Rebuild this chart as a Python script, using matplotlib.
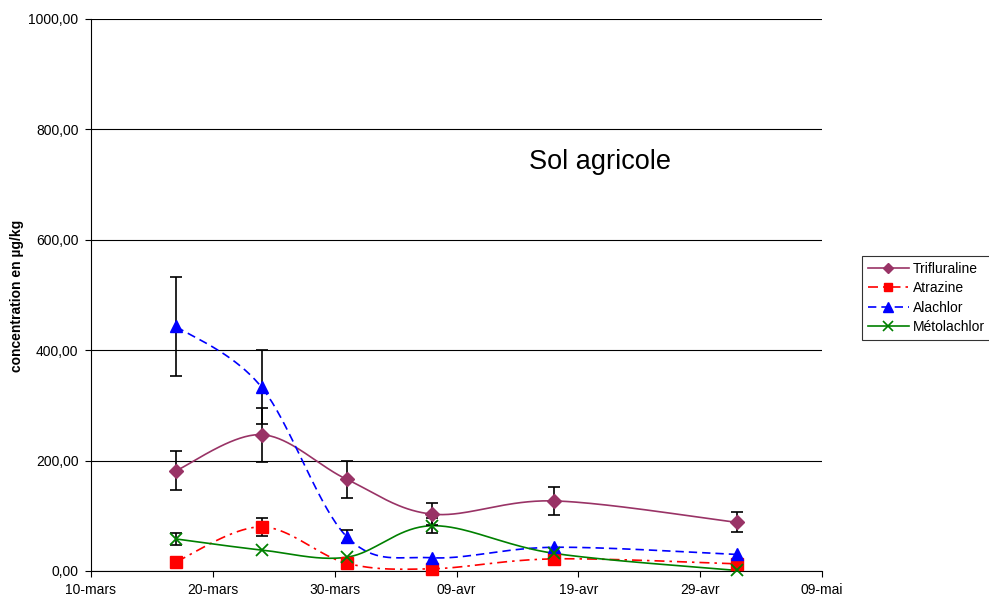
import numpy as np
import matplotlib
matplotlib.use("Agg")
import matplotlib.pyplot as plt
import matplotlib.dates as mdates
from matplotlib.lines import Line2D
import datetime as dt

plt.rcParams['font.family'] = ['Liberation Sans', 'DejaVu Sans']

dates = ["2008-03-17", "2008-03-24", "2008-03-31", "2008-04-07", "2008-04-17", "2008-05-02"]
tick_dates = ["2008-03-10", "2008-03-20", "2008-03-30", "2008-04-09", "2008-04-19", "2008-04-29", "2008-05-09"]
tick_labels = ["10-mars", "20-mars", "30-mars", "09-avr", "19-avr", "29-avr", "09-mai"]

trifluraline = [182, 247, 166, 103, 127, 88]
trifluraline_err = [35, 49, 33, 20, 25, 18]
atrazine = [17, 80, 14, 4, 22, 13]
atrazine_err = [0, 16, 0, 0, 0, 0]
alachlor = [443, 333, 62, 24, 43, 30]
alachlor_err = [89, 67, 12, 0, 0, 0]
metolachlor = [58, 38, 25, 82, 32, 1]
metolachlor_err = [10, 0, 0, 14, 0, 0]

series = [
    ("Trifluraline", trifluraline, trifluraline_err, "#993366", "-", "D", 7),
    ("Atrazine", atrazine, atrazine_err, "#FF0000", (0, (6, 3, 1.5, 3)), "s", 8),
    ("Alachlor", alachlor, alachlor_err, "#0000FF", (0, (5, 3)), "^", 9),
    ("Métolachlor", metolachlor, metolachlor_err, "#008000", "-", "x", 9),
]

x = np.array([mdates.date2num(dt.datetime.fromisoformat(d)) for d in dates])
xt = [mdates.date2num(dt.datetime.fromisoformat(d)) for d in tick_dates]


def smooth(xs, ys, n=40):
    # Catmull-Rom style smoothing (like spreadsheet smoothed lines)
    xs = np.asarray(xs, float); ys = np.asarray(ys, float)
    P = np.column_stack([xs, ys])
    P = np.vstack([P[0], P, P[-1]])
    out = []
    for i in range(1, len(P) - 2):
        p0, p1, p2, p3 = P[i - 1], P[i], P[i + 1], P[i + 2]
        c1 = p1 + (p2 - p0) / 6.0
        c2 = p2 - (p3 - p1) / 6.0
        t = np.linspace(0, 1, n)[:, None]
        b = ((1 - t) ** 3) * p1 + 3 * ((1 - t) ** 2) * t * c1 + 3 * (1 - t) * t ** 2 * c2 + t ** 3 * p2
        out.append(b if i == 1 else b[1:])
    out = np.vstack(out)
    return out[:, 0], out[:, 1]


fig = plt.figure(figsize=(9.89, 5.99), dpi=100)
ax = fig.add_axes([91 / 989, 1 - 571 / 599, (822 - 91) / 989, (571 - 19) / 599])

ax.set_ylim(0, 1000)
ax.set_xlim(xt[0], xt[-1])
ax.set_yticks(np.arange(0, 1001, 200))
ax.set_yticklabels([f"{v:.2f}".replace(".", ",") for v in np.arange(0, 1001, 200)])
ax.set_xticks(xt)
ax.set_xticklabels(tick_labels)
ax.grid(axis="y", color="black", linewidth=0.8)
ax.set_axisbelow(True)
for s in ["top", "right"]:
    ax.spines[s].set_visible(False)
ax.spines["left"].set_linewidth(0.8)
ax.spines["bottom"].set_linewidth(0.8)
ax.tick_params(axis="both", labelsize=10, length=4, width=0.8, direction="out")
ax.tick_params(axis="x", pad=5)
ax.tick_params(axis="y", pad=5)

handles = []
for name, ys, err, col, ls, mk, ms in series:
    sx, sy = smooth(x, ys)
    ax.plot(sx, sy, color=col, linestyle=ls, linewidth=1.2, zorder=3)
    e = np.array(err, float)
    mask = e > 0
    if mask.any():
        ax.errorbar(x[mask], np.array(ys)[mask], yerr=e[mask], fmt="none", ecolor="black",
                    elinewidth=1.2, capsize=4, capthick=1.2, zorder=4)
    if mk == "x":
        ax.plot(x, ys, linestyle="none", marker=mk, markersize=ms, markeredgewidth=1.3,
                color=col, zorder=5, clip_on=False)
    else:
        ax.plot(x, ys, linestyle="none", marker=mk, markersize=ms, color=col,
                markeredgecolor=col, zorder=5, clip_on=False)
    handles.append(Line2D([0], [0], color=col, linestyle=ls, linewidth=1.2, marker=mk,
                          markersize=ms * 0.8, markeredgewidth=1.2 if mk == "x" else 1.0))

fig.text(17 / 989, 1 - 296 / 599, "concentration en µg/kg", fontsize=10, fontweight="bold",
         rotation=90, ha="center", va="center")
fig.text(600 / 989, 1 - 162 / 599, "Sol agricole", fontsize=19.5, ha="center", va="center")

leg = fig.legend(handles, [s[0] for s in series], loc="upper left",
                 bbox_to_anchor=(862 / 989, 1 - 256 / 599), fontsize=10, frameon=True,
                 fancybox=False, edgecolor="black", handlelength=3.0, borderpad=0.4,
                 labelspacing=0.4, handletextpad=0.25, borderaxespad=0)
leg.get_frame().set_linewidth(0.8)

fig.savefig("out.png", dpi=100)
